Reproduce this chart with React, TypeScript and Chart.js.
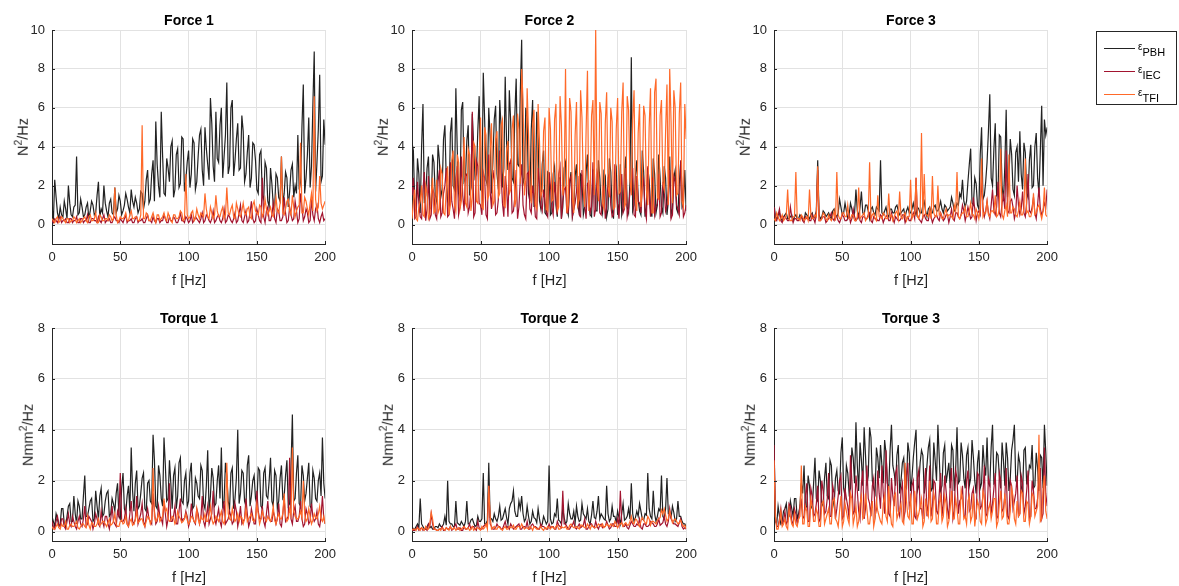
import React, { useEffect, useRef } from "react";
import { Chart, registerables } from "chart.js";

Chart.register(...registerables);

// ---------- data ----------
// Spectra read at even frequencies (0, 2, ..., 200 Hz) and odd frequencies (1, 3, ..., 199 Hz)
const freqHz: number[] = Array.from({ length: 201 }, (_, i) => i);
const xTicks = [0, 50, 100, 150, 200];
const forceYTicks = [0, 2, 4, 6, 8, 10];
const torqueYTicks = [0, 2, 4, 6, 8];
const seriesLabels = ["PBH", "IEC", "TFI"];

// ----- Force 1 -----
const force1Pbh = [
  0.9, 2.3, 0.6, 0.9, 0.4, 0.8, 2.0, 0.5, 0.9, 3.5,
  0.6, 0.9, 0.5, 1.1, 0.7, 1.0, 0.6, 2.2, 0.8, 2.0,
  0.7, 1.1, 0.6, 1.9, 0.8, 1.2, 0.7, 1.6, 0.9, 1.8,
  0.9, 1.1, 0.8, 1.6, 1.2, 2.8, 1.3, 3.3, 5.3, 2.0,
  5.8, 1.6, 3.4, 2.2, 4.3, 1.8, 3.9, 2.1, 4.4, 2.3,
  3.8, 2.6, 4.2, 2.2, 4.6, 2.8, 5.0, 3.1, 6.5, 3.0,
  5.8, 3.2, 6.0, 3.5, 7.3, 3.0, 6.4, 3.3, 5.2, 2.9,
  4.8, 2.6, 4.6, 2.4, 4.1, 1.8, 3.6, 1.5, 3.2, 1.2,
  2.9, 1.0, 2.6, 1.4, 3.5, 1.6, 2.4, 1.7, 3.1, 2.0,
  4.6, 2.2, 7.2, 2.4, 5.5, 3.0, 8.9, 3.2, 7.7, 2.5,
  4.1,
];
const force1PbhOdd = [
  0.2, 1.4, 0.3, 0.5, 1.2, 0.3, 1.1, 0.4, 1.0, 0.5,
  1.3, 0.4, 0.9, 0.3, 1.2, 0.5, 1.5, 0.4, 0.6, 1.1,
  0.4, 1.3, 0.5, 0.6, 1.5, 0.5, 1.0, 1.3, 0.6, 1.2,
  1.4, 0.6, 1.7, 0.8, 2.3, 1.1, 2.6, 1.2, 3.1, 1.4,
  3.5, 1.5, 2.9, 4.0, 1.4, 3.6, 1.9, 4.5, 1.7, 3.2,
  1.9, 4.4, 1.8, 3.5, 4.9, 2.0, 3.9, 2.3, 5.2, 2.2,
  3.4, 5.1, 2.4, 4.6, 2.6, 6.0, 2.5, 4.4, 2.8, 5.6,
  2.2, 3.7, 1.9, 4.2, 3.3, 1.6, 3.8, 1.3, 2.9, 0.9,
  2.1, 0.8, 2.4, 1.2, 1.0, 2.7, 0.9, 2.8, 1.4, 1.6,
  1.8, 5.0, 1.6, 3.6, 1.9, 6.1, 1.7, 4.9, 2.2, 5.4,
];
const force1Iec = [
  0.2, 0.3, 0.1, 0.4, 0.2, 0.3, 0.1, 0.3, 0.2, 0.4,
  0.1, 0.3, 0.2, 0.5, 0.1, 0.3, 0.2, 0.4, 0.1, 0.5,
  0.2, 0.3, 0.1, 0.4, 0.2, 0.3, 0.1, 0.5, 0.2, 0.3,
  0.1, 0.4, 0.2, 0.3, 0.1, 0.5, 0.2, 0.4, 0.1, 0.3,
  0.2, 0.5, 0.1, 0.4, 0.2, 0.3, 0.1, 0.6, 0.2, 0.4,
  0.1, 0.5, 0.2, 0.3, 0.1, 0.6, 0.2, 0.4, 0.1, 0.7,
  0.2, 0.5, 0.1, 0.8, 0.2, 0.4, 0.1, 0.6, 0.2, 1.0,
  0.1, 0.7, 0.2, 1.2, 0.1, 0.8, 0.2, 2.4, 0.1, 0.9,
  0.2, 1.1, 0.1, 0.7, 0.2, 1.4, 0.1, 0.9, 0.2, 1.2,
  0.1, 1.6, 0.2, 0.8, 0.1, 1.3, 0.2, 1.0, 0.1, 0.6,
  0.3,
];
const force1IecOdd = [
  0.1, 0.2, 0.3, 0.1, 0.2, 0.1, 0.3, 0.1, 0.2, 0.1,
  0.3, 0.1, 0.2, 0.1, 0.3, 0.2, 0.1, 0.2, 0.3, 0.1,
  0.2, 0.1, 0.3, 0.2, 0.1, 0.2, 0.3, 0.1, 0.2, 0.1,
  0.3, 0.1, 0.2, 0.1, 0.3, 0.2, 0.1, 0.2, 0.3, 0.1,
  0.2, 0.3, 0.1, 0.2, 0.4, 0.1, 0.3, 0.2, 0.1, 0.3,
  0.2, 0.1, 0.4, 0.2, 0.3, 0.1, 0.5, 0.2, 0.3, 0.1,
  0.4, 0.2, 0.3, 0.1, 0.5, 0.2, 0.3, 0.1, 0.6, 0.2,
  0.4, 0.1, 0.6, 0.3, 0.2, 0.5, 0.1, 0.4, 0.7, 0.2,
  0.5, 0.3, 0.8, 0.2, 0.4, 0.6, 0.2, 0.5, 0.3, 0.7,
  0.3, 0.9, 0.4, 0.6, 0.2, 0.5, 0.8, 0.3, 0.4, 0.2,
];
const force1Tfi = [
  0.3, 0.1, 0.4, 0.2, 0.3, 0.1, 0.3, 0.2, 0.4, 0.1,
  0.3, 0.2, 0.4, 0.1, 0.5, 0.2, 0.6, 0.1, 0.4, 0.2,
  0.3, 0.5, 0.2, 1.9, 0.1, 0.4, 0.3, 0.6, 0.2, 0.7,
  0.3, 0.4, 0.2, 5.1, 0.3, 0.5, 0.2, 0.6, 0.1, 0.5,
  0.3, 0.6, 0.2, 0.4, 0.1, 0.5, 0.3, 0.7, 0.2, 2.6,
  0.3, 0.6, 0.2, 0.8, 0.3, 0.5, 1.6, 0.4, 0.9, 0.3,
  1.5, 0.4, 0.7, 0.3, 1.9, 0.5, 1.0, 0.3, 0.8, 0.4,
  1.1, 0.5, 0.9, 0.3, 1.2, 0.6, 1.0, 0.4, 1.3, 0.5,
  0.9, 0.4, 1.4, 0.6, 3.5, 0.5, 1.2, 0.7, 1.5, 0.4,
  0.9, 4.2, 0.6, 1.2, 0.5, 1.6, 6.6, 0.7, 2.5, 0.8,
  1.2,
];
const force1TfiOdd = [
  0.2, 0.3, 0.1, 0.4, 0.2, 0.3, 0.1, 0.2, 0.3, 0.2,
  0.1, 0.3, 0.2, 0.4, 0.2, 0.3, 0.1, 0.5, 0.2, 0.3,
  0.2, 0.4, 0.3, 0.5, 0.2, 0.3, 0.4, 0.2, 0.5, 0.3,
  0.4, 0.2, 0.5, 0.3, 0.6, 0.2, 0.4, 0.3, 0.5, 0.2,
  0.4, 0.3, 0.6, 0.2, 0.5, 0.3, 0.4, 0.6, 0.3, 0.5,
  0.4, 0.7, 0.3, 0.5, 0.6, 0.4, 0.8, 0.3, 0.6, 0.5,
  0.7, 0.4, 0.9, 0.5, 0.6, 0.8, 0.4, 1.1, 0.5, 0.7,
  0.6, 0.8, 0.4, 1.0, 0.7, 0.5, 0.9, 0.6, 0.8, 0.7,
  0.5, 0.9, 0.7, 1.1, 0.6, 0.8, 1.3, 0.5, 0.9, 0.7,
  1.0, 0.6, 1.4, 0.8, 1.1, 0.7, 1.3, 0.9, 1.1, 1.0,
];

// ----- Force 2 -----
const force2Pbh = [
  4.2, 1.0, 3.4, 0.6, 6.2, 1.5, 3.5, 0.8, 3.2, 1.2,
  3.3, 1.8, 5.1, 1.2, 4.7, 2.0, 7.0, 1.6, 5.9, 2.2,
  4.3, 1.5, 5.7, 2.4, 4.8, 1.8, 7.8, 2.3, 6.0, 1.6,
  5.4, 2.6, 6.4, 1.9, 7.6, 2.8, 5.3, 2.2, 7.5, 3.0,
  9.5, 2.4, 5.5, 1.2, 6.4, 1.6, 4.4, 0.8, 3.8, 0.5,
  2.6, 0.6, 3.0, 0.4, 2.4, 0.9, 3.2, 0.5, 2.7, 0.8,
  3.1, 0.6, 2.5, 0.9, 3.6, 0.5, 2.8, 0.7, 3.3, 1.0,
  2.7, 0.4, 3.4, 0.8, 2.6, 0.5, 3.1, 0.9, 3.5, 0.6,
  8.6, 1.0, 3.3, 0.7, 3.8, 0.4, 2.9, 0.8, 3.4, 0.6,
  3.6, 0.9, 3.0, 0.5, 3.5, 0.8, 2.8, 0.6, 3.2, 1.1,
  0.7,
];
const force2PbhOdd = [
  3.8, 0.7, 2.6, 4.0, 1.1, 2.9, 0.9, 3.6, 1.5, 4.1,
  1.4, 4.4, 2.3, 1.0, 5.5, 1.8, 3.9, 1.2, 6.3, 2.4,
  5.1, 1.9, 4.0, 2.6, 6.6, 1.7, 5.4, 2.0, 4.5, 3.2,
  6.1, 1.8, 5.0, 2.9, 4.2, 6.9, 2.4, 5.6, 3.1, 6.8,
  2.1, 6.0, 1.6, 4.9, 0.9, 5.8, 1.2, 3.1, 0.6, 2.7,
  0.5, 2.6, 1.0, 2.4, 0.3, 2.9, 0.8, 2.1, 0.4, 2.5,
  0.9, 2.6, 0.5, 2.7, 1.2, 0.4, 2.8, 0.7, 2.4, 0.6,
  2.5, 0.8, 2.7, 0.3, 2.9, 1.1, 0.5, 2.6, 0.9, 2.2,
  0.7, 2.5, 1.3, 0.5, 2.7, 0.9, 2.3, 0.4, 2.6, 1.0,
  2.4, 0.6, 2.4, 1.2, 0.5, 2.4, 0.8, 2.1, 0.9, 2.8,
];
const force2Iec = [
  1.5, 0.3, 2.2, 0.4, 1.8, 0.2, 2.5, 0.5, 1.6, 0.3,
  2.8, 0.6, 2.0, 0.4, 3.2, 0.8, 2.4, 0.5, 3.5, 0.7,
  2.6, 0.9, 5.8, 0.6, 3.0, 1.0, 2.7, 0.5, 3.6, 0.8,
  2.3, 0.6, 3.8, 1.1, 2.5, 0.4, 3.3, 0.7, 2.8, 0.9,
  3.1, 0.5, 2.6, 0.8, 2.0, 0.4, 2.9, 1.0, 1.8, 0.6,
  2.7, 0.9, 2.2, 0.5, 3.0, 1.2, 1.9, 0.6, 2.5, 0.8,
  1.7, 0.5, 2.8, 1.0, 2.1, 0.6, 3.2, 0.8, 2.4, 0.5,
  2.0, 0.9, 2.6, 0.4, 3.1, 1.0, 1.8, 0.6, 2.9, 0.8,
  2.2, 0.5, 2.5, 1.1, 1.9, 0.7, 3.0, 0.4, 2.3, 0.9,
  2.6, 0.6, 1.7, 1.0, 2.8, 0.5, 2.2, 0.8, 3.3, 0.4,
  1.0,
];
const force2IecOdd = [
  2.4, 0.4, 1.1, 0.3, 2.7, 0.8, 0.3, 1.9, 0.5, 2.2,
  0.4, 1.6, 2.9, 0.5, 1.2, 0.3, 3.0, 0.9, 1.5, 2.5,
  0.6, 2.0, 0.4, 3.3, 1.1, 0.5, 2.4, 0.3, 1.7, 2.8,
  0.5, 1.3, 2.6, 0.4, 1.9, 3.1, 0.6, 1.4, 0.3, 2.3,
  1.0, 0.3, 2.7, 0.6, 1.5, 0.3, 2.1, 0.7, 1.2, 0.4,
  2.0, 0.5, 1.4, 2.6, 0.3, 1.8, 0.6, 2.3, 0.4, 1.1,
  2.5, 0.4, 1.6, 0.3, 2.2, 0.9, 0.4, 2.7, 0.6, 1.3,
  0.3, 2.4, 1.0, 0.5, 1.9, 0.3, 2.6, 0.8, 0.4, 1.7,
  2.9, 0.4, 1.2, 0.6, 2.3, 0.3, 1.5, 2.4, 0.5, 1.1,
  0.4, 2.2, 0.7, 1.8, 0.3, 2.5, 1.0, 0.5, 1.9, 0.6,
];
const force2Tfi = [
  0.3, 1.8, 0.2, 1.2, 0.5, 2.0, 0.3, 1.5, 0.6, 2.3,
  0.8, 2.6, 0.5, 3.0, 1.0, 3.8, 0.7, 3.2, 1.2, 4.5,
  0.9, 3.6, 1.4, 4.0, 1.1, 5.5, 0.8, 4.6, 1.5, 5.2,
  1.2, 4.8, 1.6, 5.4, 0.9, 4.3, 1.8, 5.6, 1.3, 4.9,
  8.0, 1.5, 7.0, 2.0, 5.2, 1.0, 6.2, 1.4, 4.8, 0.8,
  6.0, 1.2, 5.4, 0.7, 6.6, 1.5, 8.0, 1.0, 5.8, 0.6,
  6.3, 1.3, 5.5, 0.9, 7.9, 1.6, 6.4, 10.0, 1.2, 5.7,
  0.8, 6.8, 1.4, 5.3, 0.9, 6.5, 1.7, 7.3, 1.1, 5.9,
  1.5, 6.9, 0.7, 6.2, 1.9, 5.6, 1.0, 7.0, 0.6, 7.5,
  1.3, 6.4, 1.8, 7.2, 8.0, 1.1, 6.0, 1.6, 7.3, 0.9,
  4.4,
];
const force2TfiOdd = [
  1.2, 0.3, 0.9, 2.0, 0.4, 1.6, 0.5, 2.4, 0.7, 0.6,
  2.9, 0.6, 1.8, 0.5, 3.3, 1.0, 3.6, 0.8, 2.6, 1.1,
  3.9, 0.7, 4.2, 1.2, 3.4, 0.9, 5.0, 1.3, 3.7, 1.0,
  4.4, 1.4, 5.1, 1.0, 3.8, 1.6, 4.9, 0.9, 5.7, 2.1,
  6.4, 2.3, 4.7, 1.1, 5.9, 0.8, 4.3, 1.7, 5.5, 0.7,
  4.9, 1.3, 6.2, 0.9, 5.1, 2.0, 0.6, 6.5, 1.4, 4.6,
  1.0, 6.9, 1.9, 4.8, 0.7, 5.6, 1.5, 2.2, 6.3, 1.1,
  5.2, 2.0, 6.0, 0.8, 4.9, 1.6, 5.8, 0.9, 6.6, 2.3,
  5.4, 1.2, 4.7, 0.9, 6.1, 1.8, 5.0, 0.6, 6.8, 1.4,
  5.6, 2.1, 4.8, 1.0, 5.3, 6.9, 1.5, 5.7, 1.2, 6.2,
];

// ----- Force 3 -----
const force3Pbh = [
  1.1, 0.3, 0.6, 0.2, 0.5, 0.3, 0.4, 0.2, 0.5, 0.3,
  0.4, 0.2, 0.5, 0.3, 0.6, 0.4, 3.3, 0.3, 0.7, 0.4,
  0.6, 0.3, 0.8, 0.4, 1.3, 0.5, 1.1, 0.3, 1.1, 0.4,
  1.8, 0.4, 1.7, 0.5, 1.0, 0.3, 0.9, 0.5, 0.8, 3.3,
  0.5, 0.9, 0.4, 0.8, 0.6, 1.0, 0.5, 0.7, 0.4, 0.9,
  0.6, 1.1, 0.5, 0.8, 0.6, 1.2, 0.4, 0.9, 0.6, 1.0,
  0.7, 1.2, 0.6, 0.9, 0.8, 1.4, 0.7, 1.1, 1.6, 2.3,
  0.9, 2.2, 3.9, 1.0, 2.1, 0.8, 5.0, 1.5, 3.2, 6.7,
  2.0, 5.2, 1.6, 4.5, 1.2, 5.9, 2.3, 3.6, 1.5, 4.0,
  4.8, 1.8, 3.7, 1.4, 4.1, 2.0, 4.7, 1.6, 6.1, 5.4,
  5.0,
];
const force3PbhOdd = [
  0.4, 0.5, 0.3, 0.4, 0.6, 0.3, 0.5, 0.4, 0.3, 0.5,
  0.3, 0.6, 0.4, 0.5, 0.3, 0.7, 0.5, 0.4, 0.6, 0.5,
  0.4, 0.7, 0.5, 0.6, 0.9, 0.6, 0.7, 0.5, 0.8, 0.6,
  0.7, 0.9, 0.6, 1.0, 0.7, 0.8, 0.6, 0.9, 0.7, 0.6,
  0.7, 0.5, 0.8, 0.6, 0.9, 0.7, 0.6, 0.8, 0.7, 0.6,
  0.8, 0.7, 0.9, 0.6, 1.0, 0.7, 0.8, 0.6, 0.9, 0.7,
  0.9, 0.8, 1.0, 0.7, 0.9, 1.1, 0.8, 1.0, 1.4, 1.2,
  1.2, 3.1, 1.1, 2.4, 1.0, 3.6, 1.3, 2.2, 4.8, 2.4,
  3.9, 1.5, 4.6, 2.0, 3.0, 1.4, 4.4, 1.8, 3.7, 2.2,
  2.6, 4.2, 1.6, 3.3, 1.9, 4.0, 2.4, 3.8, 2.0, 4.6,
];
const force3Iec = [
  0.9, 0.2, 0.8, 0.1, 0.4, 0.2, 0.9, 0.1, 0.3, 0.2,
  0.4, 0.1, 0.3, 0.2, 0.5, 0.1, 2.8, 0.2, 0.4, 0.1,
  0.3, 0.6, 0.2, 0.4, 0.1, 0.5, 0.2, 0.3, 0.1, 0.8,
  0.2, 0.5, 0.1, 0.4, 0.3, 0.6, 0.1, 0.3, 0.2, 0.5,
  0.1, 0.4, 0.2, 0.6, 0.1, 0.3, 0.2, 0.5, 0.1, 0.4,
  0.2, 0.6, 2.4, 0.3, 0.1, 0.5, 0.2, 0.7, 0.1, 0.4,
  0.3, 0.6, 0.2, 0.5, 0.1, 0.8, 0.2, 0.6, 0.3, 1.0,
  0.2, 0.9, 0.3, 1.4, 0.2, 0.7, 2.5, 0.4, 1.2, 0.3,
  1.8, 0.5, 2.2, 0.4, 1.5, 3.8, 0.6, 1.3, 0.3, 2.0,
  0.5, 1.7, 0.4, 2.6, 0.6, 1.4, 0.3, 1.9, 0.5, 1.1,
  1.8,
];
const force3IecOdd = [
  0.3, 0.5, 0.2, 0.4, 0.3, 0.2, 0.4, 0.3, 0.2, 0.3,
  0.2, 0.4, 0.3, 0.2, 0.3, 0.5, 0.2, 0.3, 0.4, 0.2,
  0.4, 0.3, 0.5, 0.2, 0.3, 0.4, 0.2, 0.5, 0.3, 0.4,
  0.3, 0.2, 0.4, 0.3, 0.5, 0.2, 0.4, 0.3, 0.2, 0.4,
  0.3, 0.5, 0.2, 0.3, 0.4, 0.2, 0.3, 0.5, 0.3, 0.2,
  0.4, 0.3, 0.5, 0.2, 0.4, 0.3, 0.2, 0.4, 0.3, 0.5,
  0.2, 0.4, 0.3, 0.5, 0.4, 0.3, 0.6, 0.4, 0.5, 0.7,
  0.5, 0.6, 0.4, 0.8, 0.6, 0.5, 0.9, 0.7, 0.6, 1.0,
  0.7, 0.9, 0.6, 1.1, 0.8, 0.7, 1.2, 0.9, 0.6, 1.0,
  0.8, 0.6, 1.1, 0.7, 0.9, 0.6, 1.0, 0.8, 0.7, 0.9,
];
const force3Tfi = [
  0.3, 0.6, 0.2, 0.5, 0.3, 1.8, 0.2, 0.4, 2.7, 0.3,
  0.5, 0.2, 0.4, 1.8, 0.3, 0.5, 3.0, 0.2, 0.6, 0.3,
  0.5, 0.2, 0.7, 2.7, 0.3, 0.6, 0.4, 1.0, 0.3, 0.5,
  0.2, 1.9, 0.4, 0.6, 0.3, 3.2, 0.5, 0.3, 1.5, 0.4,
  0.6, 0.3, 1.6, 0.5, 0.4, 0.7, 1.7, 0.3, 0.6, 0.4,
  2.3, 0.5, 2.4, 0.3, 4.7, 2.6, 0.5, 0.8, 2.5, 0.4,
  2.0, 0.6, 0.3, 0.8, 0.5, 0.4, 1.0, 2.7, 0.3, 0.6,
  0.9, 0.4, 1.1, 0.5, 0.8, 0.3, 3.4, 0.6, 1.2, 0.4,
  0.7, 1.5, 0.5, 3.9, 0.3, 1.0, 3.6, 0.6, 0.8, 0.4,
  1.2, 0.5, 3.4, 0.7, 0.4, 1.6, 0.6, 1.0, 0.3, 1.9,
  0.4,
];
const force3TfiOdd = [
  0.2, 0.4, 0.3, 0.2, 0.5, 0.3, 0.2, 0.4, 0.3, 0.2,
  0.4, 0.3, 0.2, 0.5, 0.3, 0.4, 0.2, 0.3, 0.5, 0.2,
  0.3, 0.4, 0.2, 0.5, 0.3, 0.6, 0.4, 0.3, 0.5, 0.2,
  0.4, 0.3, 0.5, 0.2, 0.4, 0.3, 0.6, 0.2, 0.4, 0.3,
  0.5, 0.3, 0.4, 0.2, 0.6, 0.3, 0.4, 0.5, 0.2, 0.4,
  0.3, 0.5, 0.4, 0.6, 0.3, 0.5, 0.4, 0.3, 0.6, 0.4,
  0.5, 0.3, 0.6, 0.4, 0.5, 0.3, 0.7, 0.4, 0.5, 0.6,
  0.4, 0.7, 0.5, 0.3, 0.6, 0.8, 0.4, 0.6, 0.5, 0.7,
  0.6, 0.4, 0.8, 0.5, 0.7, 0.4, 0.6, 0.9, 0.5, 0.7,
  0.5, 0.8, 0.6, 0.4, 0.7, 0.5, 0.9, 0.6, 0.7, 0.5,
];

// ----- Torque 1 -----
const torque1Pbh = [
  0.6, 0.2, 0.5, 0.3, 0.9, 0.2, 1.0, 0.4, 1.4, 0.3,
  1.0, 0.5, 2.2, 0.6, 1.2, 0.4, 1.6, 0.5, 1.7, 0.7,
  1.5, 0.6, 1.3, 0.8, 1.9, 0.5, 2.3, 0.7, 1.8, 3.3,
  0.8, 2.4, 1.0, 2.1, 0.9, 1.9, 1.2, 3.8, 1.0, 2.6,
  1.3, 3.7, 1.2, 2.8, 0.9, 2.5, 1.4, 2.9, 1.1, 2.3,
  1.2, 2.7, 1.0, 1.9, 1.3, 2.4, 0.9, 3.2, 1.4, 2.1,
  1.1, 2.6, 3.3, 1.2, 2.2, 0.9, 2.5, 1.3, 4.0, 1.5,
  2.3, 1.0, 3.0, 1.4, 2.2, 1.1, 2.4, 0.9, 2.5, 1.3,
  2.9, 1.0, 2.2, 1.2, 2.6, 1.4, 2.8, 1.1, 4.6, 1.3,
  3.0, 1.0, 2.2, 1.5, 2.7, 0.9, 2.1, 1.2, 2.3, 3.7,
  1.3,
];
const torque1PbhOdd = [
  0.4, 0.7, 0.2, 0.9, 0.3, 0.6, 1.1, 0.4, 0.7, 1.2,
  0.5, 1.4, 0.6, 0.9, 1.3, 0.5, 1.0, 1.4, 0.6, 1.2,
  1.6, 0.7, 1.1, 1.5, 0.6, 1.7, 0.9, 1.4, 0.8, 1.6,
  1.9, 0.9, 1.5, 2.3, 0.8, 2.0, 1.1, 2.8, 0.9, 2.2,
  1.0, 2.6, 1.3, 1.9, 2.2, 0.9, 2.7, 1.2, 2.0, 1.0,
  2.3, 0.9, 2.1, 1.4, 2.6, 1.1, 1.8, 0.8, 2.5, 1.0,
  2.0, 1.3, 1.0, 2.7, 1.2, 2.3, 0.9, 2.1, 1.1, 2.4,
  1.2, 2.6, 1.0, 2.0, 1.3, 2.5, 1.0, 2.3, 1.4, 2.0,
  1.2, 2.4, 0.9, 2.1, 1.3, 2.2, 1.0, 2.5, 1.2, 2.3,
  1.1, 2.6, 1.2, 2.1, 1.0, 2.4, 1.3, 2.0, 1.4, 1.9,
];
const torque1Iec = [
  0.4, 0.1, 0.6, 0.2, 0.5, 0.1, 0.7, 0.2, 0.4, 0.1,
  0.6, 0.2, 1.0, 0.3, 0.5, 0.1, 0.7, 0.3, 0.8, 0.2,
  0.6, 0.1, 1.0, 0.3, 0.8, 2.3, 0.4, 0.9, 0.2, 1.2,
  0.3, 1.4, 0.5, 1.1, 0.2, 0.9, 0.4, 1.5, 0.3, 1.0,
  0.5, 1.2, 0.2, 1.9, 0.4, 1.0, 0.3, 1.3, 0.5, 0.8,
  0.2, 1.1, 0.4, 0.9, 0.3, 1.4, 0.2, 1.0, 0.5, 1.6,
  0.3, 0.9, 0.2, 1.2, 0.4, 0.8, 0.3, 1.1, 0.2, 1.0,
  0.4, 1.3, 0.2, 0.9, 0.3, 1.6, 0.5, 1.0, 0.2, 1.2,
  0.4, 0.8, 0.3, 1.1, 0.2, 1.3, 0.5, 2.9, 0.3, 1.0,
  0.4, 1.2, 0.2, 0.9, 0.3, 1.1, 0.4, 0.8, 0.2, 1.4,
  0.3,
];
const torque1IecOdd = [
  0.2, 0.4, 0.3, 0.5, 0.2, 0.4, 0.3, 0.6, 0.2, 0.4,
  0.3, 0.5, 0.2, 0.6, 0.4, 0.3, 0.5, 0.2, 0.4, 0.6,
  0.3, 0.5, 0.4, 0.2, 0.6, 0.4, 0.5, 0.3, 0.7, 0.4,
  0.5, 0.3, 0.7, 0.4, 0.6, 0.5, 0.3, 0.8, 0.4, 0.6,
  0.3, 0.7, 0.5, 0.4, 0.6, 0.3, 0.8, 0.4, 0.5, 0.6,
  0.4, 0.6, 0.3, 0.7, 0.5, 0.4, 0.6, 0.3, 0.7, 0.5,
  0.6, 0.4, 0.7, 0.3, 0.5, 0.6, 0.4, 0.8, 0.5, 0.3,
  0.5, 0.7, 0.4, 0.6, 0.3, 0.8, 0.5, 0.4, 0.7, 0.5,
  0.4, 0.6, 0.5, 0.3, 0.7, 0.4, 0.6, 0.5, 0.8, 0.4,
  0.6, 0.5, 0.3, 0.7, 0.4, 0.6, 0.5, 0.3, 0.6, 0.5,
];
const torque1Tfi = [
  0.2, 0.1, 0.3, 0.1, 0.2, 0.4, 0.1, 0.3, 0.2, 0.4,
  0.1, 0.3, 0.2, 0.6, 0.1, 0.3, 0.2, 0.5, 0.3, 0.4,
  0.2, 0.5, 0.3, 0.7, 0.2, 0.4, 0.3, 0.6, 0.2, 0.5,
  0.3, 0.8, 0.4, 0.5, 0.2, 0.6, 0.3, 2.5, 0.4, 0.7,
  0.5, 1.3, 0.9, 0.4, 0.6, 0.3, 0.8, 0.5, 0.4, 0.7,
  0.3, 0.6, 0.4, 0.9, 0.3, 0.5, 0.7, 0.4, 1.0, 0.3,
  0.6, 0.4, 0.8, 0.3, 2.7, 0.5, 0.9, 0.4, 0.7, 0.6,
  0.3, 0.9, 0.5, 0.7, 0.4, 1.1, 0.3, 0.8, 0.5, 0.6,
  0.4, 1.0, 0.3, 0.7, 0.5, 1.5, 0.4, 0.9, 3.3, 0.6,
  0.5, 0.8, 2.0, 0.4, 0.9, 0.3, 0.7, 0.5, 1.0, 0.4,
  0.3,
];
const torque1TfiOdd = [
  0.1, 0.2, 0.15, 0.3, 0.2, 0.1, 0.25, 0.2, 0.3, 0.15,
  0.2, 0.3, 0.15, 0.25, 0.35, 0.2, 0.3, 0.25, 0.4, 0.3,
  0.35, 0.25, 0.4, 0.3, 0.2, 0.45, 0.35, 0.3, 0.4, 0.25,
  0.45, 0.35, 0.5, 0.3, 0.4, 0.55, 0.45, 0.6, 0.5, 0.4,
  0.6, 0.8, 0.5, 0.45, 0.55, 0.4, 0.6, 0.35, 0.5, 0.45,
  0.4, 0.55, 0.35, 0.5, 0.6, 0.45, 0.4, 0.65, 0.5, 0.4,
  0.5, 0.6, 0.4, 0.55, 0.7, 0.45, 0.6, 0.5, 0.4, 0.55,
  0.5, 0.4, 0.6, 0.45, 0.55, 0.7, 0.5, 0.6, 0.4, 0.5,
  0.6, 0.45, 0.55, 0.5, 0.7, 0.6, 0.5, 0.65, 0.8, 0.5,
  0.6, 0.55, 0.7, 0.5, 0.6, 0.45, 0.55, 0.7, 0.5, 0.6,
];

// ----- Torque 2 -----
const torque2Pbh = [
  0.2, 0.1, 0.3, 1.3, 0.2, 0.1, 0.3, 0.2, 0.1, 0.2,
  0.3, 0.2, 0.6, 2.0, 0.3, 0.2, 1.2, 0.3, 0.4, 0.2,
  1.2, 0.3, 0.5, 0.2, 0.6, 0.4, 2.3, 0.3, 2.7, 0.5,
  0.7, 0.4, 1.0, 0.5, 0.9, 0.3, 1.1, 1.6, 0.6, 1.2,
  1.4, 0.4, 1.0, 0.3, 0.8, 0.5, 0.9, 0.2, 0.6, 0.3,
  2.6, 0.3, 0.7, 1.3, 0.4, 0.9, 0.3, 1.1, 0.5, 0.8,
  1.0, 0.4, 1.1, 0.6, 0.9, 0.3, 1.2, 0.5, 1.4, 0.7,
  0.5, 1.8, 0.4, 1.0, 0.6, 0.8, 0.3, 1.1, 0.5, 0.9,
  1.9, 0.4, 0.8, 1.1, 0.5, 0.7, 2.3, 0.6, 1.6, 0.4,
  0.9, 2.2, 0.5, 2.1, 0.7, 1.0, 0.4, 1.2, 0.6, 0.3,
  0.2,
];
const torque2PbhOdd = [
  0.1, 0.2, 0.15, 0.3, 0.1, 0.2, 0.15, 0.1, 0.2, 0.15,
  0.2, 0.3, 0.25, 0.4, 0.3, 0.2, 0.35, 0.25, 0.3, 0.4,
  0.3, 0.45, 0.35, 0.25, 0.4, 0.5, 0.3, 0.45, 0.55, 0.4,
  0.5, 0.6, 0.45, 0.7, 0.55, 0.9, 1.2, 0.8, 0.6, 0.9,
  0.7, 0.5, 0.6, 0.4, 0.55, 0.35, 0.5, 0.3, 0.45, 0.4,
  0.5, 0.35, 0.6, 0.45, 0.3, 0.55, 0.4, 0.7, 0.5, 0.35,
  0.6, 0.45, 0.7, 0.5, 0.4, 0.65, 0.55, 0.8, 0.5, 0.6,
  0.45, 0.7, 0.5, 0.6, 0.35, 0.55, 0.7, 0.45, 0.6, 0.5,
  0.7, 0.55, 0.6, 0.8, 0.45, 0.65, 0.9, 0.5, 0.7, 0.6,
  0.8, 0.6, 0.9, 0.7, 0.55, 0.75, 0.5, 0.6, 0.4, 0.3,
];
const torque2Iec = [
  0.1, 0.05, 0.2, 0.1, 0.05, 0.1, 0.3, 0.7, 0.1, 0.05,
  0.1, 0.2, 0.05, 0.1, 0.2, 0.1, 0.3, 0.1, 0.05, 0.2,
  0.1, 0.3, 0.2, 0.1, 0.4, 0.1, 0.2, 0.3, 1.8, 0.2,
  0.1, 0.3, 0.2, 0.1, 0.4, 0.2, 0.3, 0.1, 0.2, 0.3,
  0.1, 0.2, 0.4, 0.1, 0.3, 0.2, 0.1, 0.3, 0.2, 0.1,
  0.3, 0.2, 0.1, 0.4, 0.2, 1.6, 0.3, 0.1, 0.2, 0.4,
  0.1, 0.3, 0.2, 0.5, 0.1, 0.3, 0.2, 0.4, 0.1, 0.3,
  0.2, 0.4, 0.1, 0.3, 0.2, 0.5, 1.6, 0.2, 0.3, 0.1,
  0.4, 0.2, 0.3, 0.5, 0.1, 0.3, 0.2, 0.4, 0.3, 0.2,
  0.5, 0.3, 0.6, 0.2, 0.9, 0.4, 0.3, 0.2, 0.5, 0.1,
  0.1,
];
const torque2IecOdd = [
  0.05, 0.1, 0.05, 0.15, 0.1, 0.05, 0.2, 0.3, 0.1, 0.05,
  0.1, 0.05, 0.15, 0.1, 0.05, 0.2, 0.1, 0.15, 0.05, 0.1,
  0.15, 0.1, 0.2, 0.05, 0.15, 0.1, 0.25, 0.2, 0.3, 0.1,
  0.15, 0.2, 0.1, 0.25, 0.15, 0.1, 0.2, 0.15, 0.25, 0.1,
  0.2, 0.15, 0.1, 0.25, 0.2, 0.15, 0.1, 0.2, 0.15, 0.1,
  0.15, 0.2, 0.1, 0.25, 0.15, 0.3, 0.2, 0.1, 0.25, 0.15,
  0.2, 0.15, 0.25, 0.1, 0.2, 0.3, 0.15, 0.2, 0.25, 0.15,
  0.2, 0.25, 0.15, 0.3, 0.2, 0.25, 0.35, 0.2, 0.15, 0.25,
  0.3, 0.2, 0.25, 0.15, 0.3, 0.2, 0.25, 0.35, 0.2, 0.3,
  0.25, 0.35, 0.3, 0.4, 0.5, 0.3, 0.25, 0.35, 0.2, 0.15,
];
const torque2Tfi = [
  0.05, 0.1, 0.15, 0.05, 0.1, 0.2, 0.1, 0.75, 0.1, 0.05,
  0.1, 0.15, 0.05, 0.1, 0.2, 0.1, 0.05, 0.15, 0.1, 0.2,
  0.1, 0.05, 0.2, 0.1, 0.15, 0.05, 0.1, 0.3, 1.8, 0.1,
  0.2, 0.1, 0.15, 0.05, 0.2, 0.1, 0.15, 0.25, 0.1, 0.2,
  0.3, 0.1, 0.15, 0.2, 0.05, 0.15, 0.1, 0.2, 0.05, 0.1,
  0.15, 0.2, 0.1, 0.25, 0.1, 0.15, 0.2, 0.1, 0.3, 0.15,
  0.2, 0.1, 0.25, 0.15, 0.3, 0.1, 0.2, 0.15, 0.3, 0.2,
  0.15, 0.3, 0.2, 0.25, 0.4, 0.15, 0.3, 0.2, 0.35, 0.25,
  0.6, 0.3, 0.45, 0.2, 0.55, 0.35, 0.6, 0.25, 0.4, 0.3,
  0.5, 0.85, 0.9, 0.4, 0.8, 0.35, 0.5, 0.3, 0.45, 0.2,
  0.1,
];
const torque2TfiOdd = [
  0.1, 0.05, 0.1, 0.15, 0.05, 0.1, 0.3, 0.5, 0.1, 0.05,
  0.05, 0.1, 0.15, 0.05, 0.1, 0.15, 0.1, 0.05, 0.15, 0.1,
  0.15, 0.1, 0.05, 0.15, 0.1, 0.2, 0.15, 0.1, 0.6, 0.15,
  0.1, 0.2, 0.1, 0.15, 0.1, 0.2, 0.15, 0.1, 0.2, 0.15,
  0.2, 0.15, 0.1, 0.15, 0.2, 0.1, 0.15, 0.1, 0.15, 0.2,
  0.1, 0.15, 0.2, 0.1, 0.2, 0.15, 0.1, 0.25, 0.2, 0.15,
  0.15, 0.25, 0.2, 0.15, 0.2, 0.25, 0.15, 0.2, 0.25, 0.3,
  0.2, 0.25, 0.3, 0.2, 0.3, 0.25, 0.35, 0.3, 0.25, 0.4,
  0.35, 0.5, 0.3, 0.4, 0.45, 0.3, 0.5, 0.4, 0.35, 0.45,
  0.55, 0.7, 0.65, 0.5, 0.6, 0.45, 0.4, 0.35, 0.3, 0.25,
];

// ----- Torque 3 -----
const torque3Pbh = [
  3.7, 0.3, 0.6, 0.4, 0.9, 0.5, 1.2, 0.6, 1.3, 0.7,
  1.9, 2.6, 1.0, 1.8, 0.9, 2.9, 1.2, 2.0, 1.1, 2.7,
  1.3, 2.6, 1.0, 2.4, 1.5, 3.7, 1.4, 2.3, 1.7, 2.9,
  4.3, 1.6, 2.8, 4.1, 1.8, 4.1, 2.0, 1.5, 2.9, 3.4,
  1.9, 3.1, 1.6, 4.2, 2.3, 3.0, 1.5, 2.7, 1.8, 3.5,
  1.6, 2.9, 4.0, 1.8, 3.2, 1.5, 2.6, 3.6, 1.7, 2.8,
  4.2, 1.6, 3.1, 1.9, 2.7, 3.4, 1.6, 4.1, 2.0, 3.0,
  1.7, 3.3, 2.1, 2.9, 1.5, 3.2, 1.9, 2.6, 3.7, 1.8,
  4.2, 2.0, 3.0, 1.7, 2.8, 3.5, 1.6, 3.2, 4.2, 1.9,
  2.7, 1.5, 3.3, 2.0, 2.5, 1.7, 3.1, 1.6, 2.9, 4.2,
  1.8,
];
const torque3PbhOdd = [
  0.4, 1.0, 0.3, 0.8, 1.1, 0.6, 0.9, 1.3, 0.5, 1.0,
  1.5, 0.9, 2.2, 1.0, 1.9, 1.3, 2.4, 1.0, 2.1, 1.4,
  2.8, 1.3, 2.1, 1.6, 3.1, 1.7, 2.6, 1.5, 3.3, 1.9,
  2.6, 3.5, 1.8, 3.0, 2.2, 3.7, 1.7, 3.3, 2.1, 2.6,
  3.6, 1.9, 3.2, 2.6, 1.8, 3.4, 2.0, 2.9, 1.7, 3.1,
  2.1, 3.5, 1.6, 2.7, 3.0, 1.9, 3.3, 1.6, 3.5, 2.0,
  2.9, 1.8, 3.4, 2.3, 1.7, 3.2, 2.4, 1.9, 3.5, 2.1,
  3.0, 1.8, 3.6, 2.0, 2.7, 1.7, 3.4, 2.2, 1.9, 3.3,
  1.9, 3.1, 2.2, 3.5, 1.8, 2.9, 2.1, 3.6, 2.0, 3.0,
  1.8, 3.2, 1.9, 2.6, 3.4, 1.8, 2.5, 3.0, 1.7, 3.1,
];
const torque3Iec = [
  3.4, 0.2, 0.5, 0.3, 0.8, 0.4, 1.0, 0.3, 0.7, 0.5,
  1.2, 0.6, 1.9, 0.4, 1.4, 0.7, 1.8, 0.5, 1.6, 0.8,
  2.3, 0.6, 1.5, 0.9, 2.0, 0.5, 1.7, 1.0, 3.0, 0.7,
  2.2, 0.8, 1.9, 0.5, 2.6, 1.1, 1.8, 0.6, 2.4, 0.9,
  1.5, 3.2, 0.7, 2.1, 1.0, 2.5, 0.6, 1.9, 0.8, 2.7,
  1.2, 2.0, 0.5, 2.4, 0.9, 1.7, 0.6, 2.6, 1.0, 1.9,
  0.7, 2.3, 1.1, 1.6, 0.5, 2.5, 0.8, 2.1, 1.2, 1.8,
  0.6, 2.4, 0.9, 1.7, 0.5, 2.2, 1.0, 2.6, 0.7, 1.9,
  1.1, 2.3, 0.6, 2.0, 0.9, 2.5, 0.5, 1.8, 1.2, 2.2,
  0.7, 1.9, 1.0, 2.4, 0.6, 1.6, 0.9, 2.0, 0.5, 3.3,
  1.0,
];
const torque3IecOdd = [
  0.6, 0.2, 0.9, 0.4, 0.3, 1.1, 0.4, 0.9, 0.3, 1.0,
  0.5, 1.4, 0.4, 1.7, 0.6, 1.1, 0.4, 2.0, 0.7, 1.3,
  0.6, 1.8, 0.5, 1.4, 2.2, 0.6, 1.3, 0.5, 2.0, 0.8,
  1.6, 0.5, 2.4, 0.9, 1.3, 0.6, 2.1, 0.9, 1.5, 2.6,
  0.7, 1.9, 0.6, 1.4, 2.3, 0.8, 1.6, 0.5, 2.2, 1.0,
  1.8, 0.6, 2.1, 0.9, 0.5, 2.5, 1.1, 0.6, 2.0, 0.8,
  1.5, 0.6, 2.2, 0.9, 1.8, 0.5, 2.4, 0.7, 1.3, 0.6,
  2.0, 0.8, 1.5, 0.5, 2.3, 0.9, 1.4, 0.6, 2.1, 0.7,
  1.7, 0.5, 2.3, 0.8, 1.4, 0.6, 2.0, 0.9, 1.5, 0.6,
  2.2, 0.7, 1.6, 0.5, 2.0, 0.9, 1.3, 2.5, 0.7, 1.5,
];
const torque3Tfi = [
  2.8, 0.1, 0.4, 0.2, 0.5, 0.1, 0.6, 0.2, 0.3, 0.5,
  2.6, 0.3, 0.8, 0.2, 1.0, 0.4, 0.7, 0.2, 1.2, 0.5,
  0.9, 0.3, 1.3, 0.4, 0.8, 0.2, 1.1, 0.5, 1.5, 0.3,
  1.0, 0.4, 1.4, 0.6, 0.9, 0.3, 1.2, 0.5, 0.8, 0.4,
  1.1, 0.6, 1.8, 0.3, 1.4, 0.5, 0.9, 0.4, 2.7, 0.6,
  1.5, 0.3, 1.0, 0.7, 1.3, 0.4, 0.8, 2.0, 0.5, 1.2,
  0.3, 1.4, 0.6, 1.1, 0.4, 1.6, 0.5, 0.9, 0.3, 1.3,
  0.6, 1.2, 0.4, 1.5, 0.7, 1.0, 0.3, 1.4, 0.5, 1.1,
  0.8, 1.3, 0.4, 1.6, 0.6, 0.9, 0.3, 1.7, 0.5, 1.2,
  0.7, 1.5, 0.4, 1.1, 0.6, 1.4, 0.8, 3.8, 0.5, 2.2,
  0.5,
];
const torque3TfiOdd = [
  0.6, 0.1, 0.8, 0.3, 0.2, 0.9, 0.3, 0.7, 0.2, 0.6,
  0.3, 1.0, 0.2, 1.3, 0.4, 0.9, 0.2, 1.1, 0.3, 0.7,
  0.3, 1.2, 0.5, 0.2, 1.4, 0.4, 0.8, 0.3, 1.3, 0.6,
  0.2, 1.1, 0.5, 1.5, 0.3, 0.8, 0.2, 1.2, 0.6, 0.3,
  1.4, 0.4, 0.9, 0.2, 1.5, 0.7, 1.1, 0.3, 1.2, 0.5,
  0.3, 1.6, 0.5, 1.0, 0.2, 1.3, 0.6, 0.4, 1.5, 0.3,
  1.1, 0.4, 1.4, 0.2, 0.9, 0.5, 1.3, 0.3, 1.6, 0.5,
  0.3, 1.4, 0.6, 0.2, 1.2, 0.4, 1.6, 0.3, 0.9, 0.5,
  1.3, 0.2, 1.1, 0.5, 1.5, 0.3, 0.8, 1.4, 0.3, 0.6,
  1.6, 0.4, 1.2, 0.3, 1.5, 0.6, 1.0, 0.4, 1.7, 0.8,
];

// ---------- styling ----------
const FONT = "'Liberation Sans', Arial, Helvetica, sans-serif";
const AXIS_COLOR = "#262626";
const GRID_COLOR = "#e2e2e2";
const COLOR_PBH = "#222222";
const COLOR_IEC = "#A2142F";
const COLOR_TFI = "#FF6929";
const LINE_W = 1.2;

const Y_AXIS_W = 52;
const TOP_PAD = 30;
const RIGHT_PAD = 16;
const X_AXIS_H = 30;

// merge the even-Hz and odd-Hz readings into one 1 Hz series
function merge(even: number[], odd: number[]): number[] {
  const out: number[] = [];
  for (let k = 0; k < even.length; k++) {
    out.push(even[k]);
    if (k < odd.length) out.push(odd[k]);
  }
  return out;
}

type PanelDef = {
  title: string;
  left: number;
  top: number;
  w: number;
  h: number;
  yMin: number;
  yMax: number;
  yTicks: number[];
  torque: boolean;
  pbh: number[];
  iec: number[];
  tfi: number[];
};

const panels: PanelDef[] = [
  { title: "Force 1", left: 52, top: 30, w: 274, h: 214, yMin: -1, yMax: 10, yTicks: forceYTicks, torque: false,
    pbh: merge(force1Pbh, force1PbhOdd), iec: merge(force1Iec, force1IecOdd), tfi: merge(force1Tfi, force1TfiOdd) },
  { title: "Force 2", left: 412, top: 30, w: 275, h: 214, yMin: -1, yMax: 10, yTicks: forceYTicks, torque: false,
    pbh: merge(force2Pbh, force2PbhOdd), iec: merge(force2Iec, force2IecOdd), tfi: merge(force2Tfi, force2TfiOdd) },
  { title: "Force 3", left: 774, top: 30, w: 274, h: 214, yMin: -1, yMax: 10, yTicks: forceYTicks, torque: false,
    pbh: merge(force3Pbh, force3PbhOdd), iec: merge(force3Iec, force3IecOdd), tfi: merge(force3Tfi, force3TfiOdd) },
  { title: "Torque 1", left: 52, top: 328, w: 274, h: 213, yMin: -0.37, yMax: 8, yTicks: torqueYTicks, torque: true,
    pbh: merge(torque1Pbh, torque1PbhOdd), iec: merge(torque1Iec, torque1IecOdd), tfi: merge(torque1Tfi, torque1TfiOdd) },
  { title: "Torque 2", left: 412, top: 328, w: 275, h: 213, yMin: -0.37, yMax: 8, yTicks: torqueYTicks, torque: true,
    pbh: merge(torque2Pbh, torque2PbhOdd), iec: merge(torque2Iec, torque2IecOdd), tfi: merge(torque2Tfi, torque2TfiOdd) },
  { title: "Torque 3", left: 774, top: 328, w: 274, h: 213, yMin: -0.37, yMax: 8, yTicks: torqueYTicks, torque: true,
    pbh: merge(torque3Pbh, torque3PbhOdd), iec: merge(torque3Iec, torque3IecOdd), tfi: merge(torque3Tfi, torque3TfiOdd) },
];

const tickMarks = {
  id: "tickMarks",
  afterDatasetsDraw(chart: any) {
    const { ctx, chartArea, scales } = chart;
    const { left, bottom } = chartArea;
    ctx.save();
    ctx.strokeStyle = AXIS_COLOR;
    ctx.lineWidth = 1;
    ctx.beginPath();
    scales.y.ticks.forEach((t: any) => {
      const py = Math.round(scales.y.getPixelForValue(t.value)) + 0.5;
      ctx.moveTo(left, py);
      ctx.lineTo(left + 3, py);
    });
    scales.x.ticks.forEach((t: any) => {
      const px = Math.round(scales.x.getPixelForValue(t.value)) + 0.5;
      ctx.moveTo(px, bottom);
      ctx.lineTo(px, bottom - 3);
    });
    ctx.stroke();
    ctx.restore();
  },
};

function toPoints(values: number[]) {
  return values.map((v, i) => ({ x: freqHz[i], y: v }));
}

function Panel({ p }: { p: PanelDef }) {
  const ref = useRef<HTMLCanvasElement>(null);
  const cw = Y_AXIS_W + p.w + RIGHT_PAD;
  const ch = TOP_PAD + p.h + X_AXIS_H;

  useEffect(() => {
    if (!ref.current) return;
    const mk = (label: string, data: number[], color: string, order: number) => ({
      label,
      data: toPoints(data),
      borderColor: color,
      backgroundColor: color,
      borderWidth: LINE_W,
      pointRadius: 0,
      tension: 0,
      fill: false,
      order,
    });
    const chart = new Chart(ref.current, {
      type: "line",
      data: {
        datasets: [
          mk(seriesLabels[0], p.pbh, COLOR_PBH, 3),
          mk(seriesLabels[1], p.iec, COLOR_IEC, 2),
          mk(seriesLabels[2], p.tfi, COLOR_TFI, 1),
        ],
      },
      options: {
        animation: false,
        responsive: false,
        events: [],
        layout: { padding: { left: 0, top: TOP_PAD, right: RIGHT_PAD, bottom: 0 } },
        plugins: { legend: { display: false }, tooltip: { enabled: false }, title: { display: false } },
        scales: {
          x: {
            type: "linear",
            min: 0,
            max: 200,
            afterBuildTicks: (s: any) => {
              s.ticks = xTicks.map((v) => ({ value: v }));
            },
            afterFit: (s: any) => {
              s.height = X_AXIS_H;
            },
            ticks: {
              font: { family: FONT, size: 13 },
              color: AXIS_COLOR,
              padding: 6,
              maxRotation: 0,
              autoSkip: false,
            },
            grid: { color: GRID_COLOR, drawTicks: false, lineWidth: 1 },
            border: { display: true, color: AXIS_COLOR, width: 1 },
          },
          y: {
            type: "linear",
            min: p.yMin,
            max: p.yMax,
            afterBuildTicks: (s: any) => {
              s.ticks = p.yTicks.map((v) => ({ value: v }));
            },
            afterFit: (s: any) => {
              s.width = Y_AXIS_W;
            },
            ticks: {
              font: { family: FONT, size: 13 },
              color: AXIS_COLOR,
              padding: 7,
              autoSkip: false,
            },
            grid: { color: GRID_COLOR, drawTicks: false, lineWidth: 1 },
            border: { display: true, color: AXIS_COLOR, width: 1 },
          },
        },
      } as any,
      plugins: [tickMarks],
    });
    return () => chart.destroy();
  }, []);

  const cx = p.left + p.w / 2;
  const cy = p.top + p.h / 2;
  const labelX = p.torque ? p.left - 24 : p.left - 29;

  return (
    <>
      <canvas
        ref={ref}
        width={cw}
        height={ch}
        style={{ position: "absolute", left: p.left - Y_AXIS_W, top: p.top - TOP_PAD, width: cw, height: ch }}
      />
      <div
        style={{
          position: "absolute",
          left: cx,
          top: p.top - 10,
          transform: "translate(-50%, -50%)",
          fontWeight: "bold",
          fontSize: 14,
          lineHeight: 1,
          whiteSpace: "nowrap",
          color: "#000",
        }}
      >
        {p.title}
      </div>
      <div
        style={{
          position: "absolute",
          left: cx,
          top: p.top + p.h + 36,
          transform: "translate(-50%, -50%)",
          fontSize: 14.5,
          lineHeight: 1,
          whiteSpace: "nowrap",
          color: AXIS_COLOR,
        }}
      >
        f [Hz]
      </div>
      <div
        style={{
          position: "absolute",
          left: labelX,
          top: cy,
          transform: "translate(-50%, -50%) rotate(-90deg)",
          fontSize: 14.5,
          lineHeight: 1,
          whiteSpace: "nowrap",
          color: AXIS_COLOR,
        }}
      >
        {p.torque ? "Nmm" : "N"}
        <sup style={{ fontSize: "0.72em", verticalAlign: "0.55em", lineHeight: 0 }}>2</sup>/Hz
      </div>
    </>
  );
}

function Legend() {
  const rows = [
    { name: seriesLabels[0], color: COLOR_PBH, y: 16 },
    { name: seriesLabels[1], color: COLOR_IEC, y: 39 },
    { name: seriesLabels[2], color: COLOR_TFI, y: 62 },
  ];
  return (
    <div
      style={{
        position: "absolute",
        left: 1096,
        top: 31,
        width: 79,
        height: 72,
        border: `1px solid ${AXIS_COLOR}`,
        background: "#fff",
      }}
    >
      {rows.map((r) => (
        <div key={r.name}>
          <div
            style={{
              position: "absolute",
              left: 7,
              top: r.y,
              width: 31,
              height: 1,
              background: r.color,
            }}
          />
          <div
            style={{
              position: "absolute",
              left: 41,
              top: r.y - 9,
              whiteSpace: "nowrap",
              color: "#000",
              lineHeight: 1,
            }}
          >
            <span style={{ fontSize: 10, position: "relative", top: -2 }}>ε</span>
            <span style={{ fontSize: 11, position: "relative", top: 4 }}>{r.name}</span>
          </div>
        </div>
      ))}
    </div>
  );
}

export default function App() {
  return (
    <div
      style={{
        position: "absolute",
        left: 0,
        top: 0,
        width: 1179,
        height: 586,
        background: "#fff",
        fontFamily: FONT,
        overflow: "hidden",
      }}
    >
      {panels.map((p) => (
        <Panel key={p.title} p={p} />
      ))}
      <Legend />
    </div>
  );
}
